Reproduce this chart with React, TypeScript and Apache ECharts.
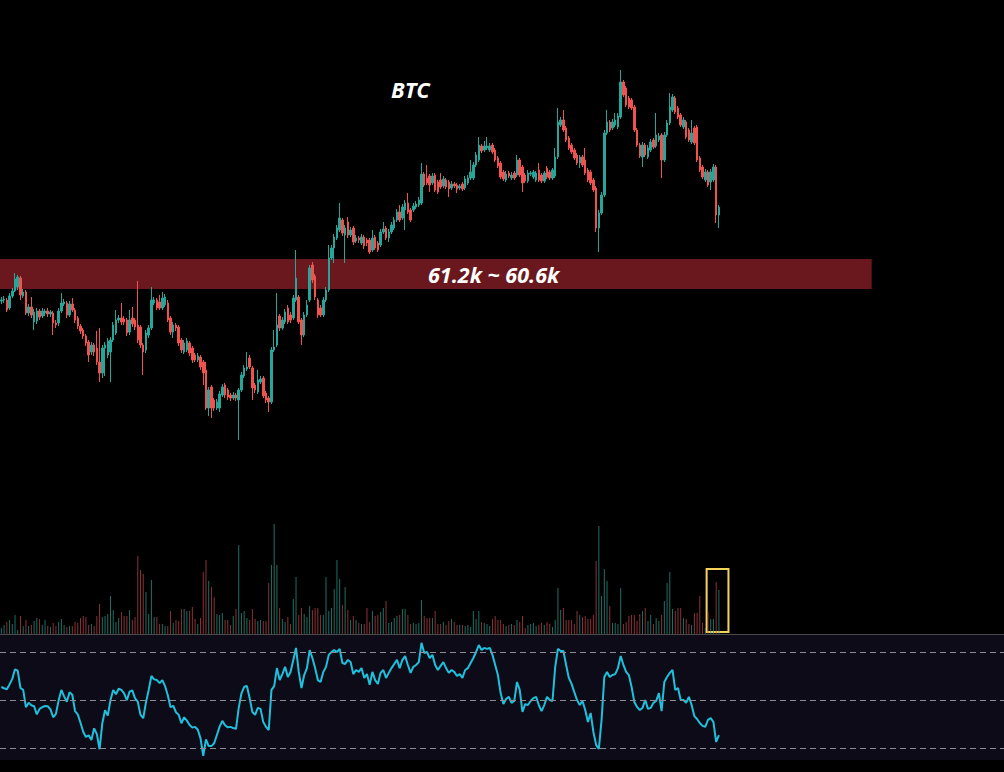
import React, { useEffect, useRef } from "react";
import * as echarts from "echarts";

// [open, close, low, high] in thousand USD
const candles: number[][] = [
  [60.36,60.38,60.30,60.44],[60.38,60.40,60.32,60.46],[60.38,60.18,60.14,60.42],[60.22,60.46,60.18,60.52],[60.46,60.56,60.42,60.62],
  [60.56,60.80,60.54,60.92],[60.64,60.84,60.58,60.88],[60.82,60.48,60.38,60.86],[60.46,60.54,60.42,60.60],[60.54,60.12,60.08,60.58],
  [60.12,60.24,60.06,60.30],[60.24,60.08,60.02,60.44],[59.94,60.14,59.78,60.20],[59.96,60.16,59.90,60.22],[60.16,60.04,59.98,60.20],
  [60.06,60.16,60.02,60.22],[60.12,60.16,60.06,60.20],[60.16,60.10,60.04,60.22],[60.10,60.14,60.04,60.18],[60.12,59.92,59.68,60.16],
  [59.92,59.88,59.82,59.98],[59.92,60.16,59.86,60.22],[60.16,60.32,60.12,60.52],[60.30,60.34,60.26,60.40],[60.32,60.08,60.02,60.36],
  [60.08,60.30,60.04,60.36],[60.30,60.18,60.14,60.42],[60.18,59.98,59.92,60.22],[60.02,59.86,59.80,60.06],[59.86,59.76,59.70,59.90],
  [59.78,59.66,59.60,59.82],[59.66,59.52,59.46,59.70],[59.54,59.28,59.14,59.58],[59.34,59.48,59.28,59.54],[59.48,59.34,59.26,59.52],
  [59.42,59.14,59.08,59.76],[59.14,58.92,58.74,59.82],[58.92,59.42,58.82,59.48],[59.42,59.48,58.86,59.54],[59.28,59.56,59.22,59.62],
  [59.34,59.58,58.74,59.64],[59.58,59.88,59.54,59.94],[59.72,59.98,59.68,60.18],[59.98,60.02,59.92,60.08],[60.02,59.94,59.88,60.32],
  [60.00,59.94,59.88,60.06],[59.98,59.72,59.66,60.02],[59.74,59.98,59.68,60.18],[60.02,59.90,59.84,60.24],[59.98,59.84,59.78,60.02],
  [59.88,59.58,59.52,60.76],[59.84,59.48,59.42,59.88],[59.48,59.34,58.88,59.52],[59.38,59.72,59.32,59.78],[59.68,59.82,59.62,59.88],
  [59.82,60.38,59.78,60.64],[60.32,60.38,60.28,60.44],[60.38,60.22,60.18,60.42],[60.34,60.22,60.18,60.48],[60.22,60.42,60.18,60.54],
  [60.28,60.44,60.24,60.50],[60.32,59.98,59.94,60.38],[60.02,59.74,59.68,60.06],[59.74,59.88,59.62,59.94],[59.88,59.82,59.76,59.92],
  [59.84,59.52,59.46,59.88],[59.58,59.38,59.32,59.62],[59.34,59.52,59.30,59.58],[59.38,59.56,59.34,59.62],[59.52,59.32,59.26,59.56],
  [59.42,59.18,59.12,59.46],[59.28,59.18,59.14,59.32],[59.18,59.26,59.14,59.32],[59.24,59.04,58.98,59.28],[59.14,58.92,58.68,59.18],
  [58.98,58.22,58.18,59.14],[58.22,58.58,58.06,58.64],[58.64,58.22,58.02,58.68],[58.38,58.22,58.16,58.42],[58.22,58.34,58.18,58.40],
  [58.22,58.50,58.14,58.56],[58.48,58.64,58.44,58.70],[58.68,58.48,58.42,58.72],[58.58,58.44,58.38,58.62],[58.48,58.42,58.36,58.52],
  [58.42,58.48,58.38,58.54],[58.48,58.42,58.36,58.52],[58.38,58.58,57.58,58.62],[58.58,58.88,58.54,58.94],[58.86,59.02,58.82,59.08],
  [59.00,59.04,58.96,59.34],[59.22,59.04,59.00,59.28],[59.02,58.62,58.38,59.06],[58.68,58.58,58.52,58.72],[58.54,58.78,58.50,58.98],
  [58.74,58.80,58.70,58.86],[58.82,58.46,58.42,58.86],[58.52,58.38,58.32,58.56],[58.42,58.34,58.14,58.46],[58.34,59.38,58.30,59.44],
  [59.38,59.44,59.34,59.78],[59.48,59.88,59.44,60.52],[60.06,59.82,59.76,60.10],[59.82,59.98,59.78,60.04],[59.94,60.14,59.90,60.20],
  [60.22,59.94,59.90,60.28],[60.08,59.98,59.92,60.14],[60.02,60.42,59.98,60.48],[60.38,60.82,60.34,61.38],[60.44,59.94,59.90,60.48],
  [59.98,59.68,59.48,60.02],[59.68,60.08,59.64,60.14],[60.08,60.28,60.04,60.38],[60.38,61.02,60.34,61.08],[61.08,60.78,60.72,61.14],
  [60.86,60.44,60.38,60.90],[60.38,60.08,60.02,60.42],[60.22,60.08,60.04,60.28],[60.08,60.38,60.04,60.44],[60.38,60.58,60.34,60.64],
  [60.58,61.22,60.54,61.48],[61.22,61.42,61.18,61.48],[61.42,61.64,61.12,61.70],[61.62,61.82,61.58,61.88],[61.78,62.02,61.74,62.32],
  [61.98,61.72,61.66,62.02],[61.68,61.82,61.12,61.88],[61.94,61.68,61.62,62.04],[61.68,61.78,61.64,61.84],[61.82,61.54,61.48,61.86],
  [61.56,61.62,61.52,61.68],[61.62,61.58,61.52,61.66],[61.52,61.64,61.48,61.70],[61.64,61.46,61.40,61.68],[61.58,61.52,61.46,61.62],
  [61.58,61.34,61.30,61.62],[61.38,61.62,61.34,61.78],[61.64,61.42,61.38,61.68],[61.52,61.38,61.34,61.56],[61.48,61.74,61.44,61.80],
  [61.74,61.80,61.70,61.94],[61.82,61.62,61.58,61.86],[61.62,61.74,61.54,61.80],[61.74,61.88,61.70,61.94],[61.82,61.98,61.78,62.04],
  [61.98,62.14,61.94,62.20],[62.14,61.98,61.94,62.28],[62.02,62.24,61.98,62.30],[62.18,62.32,61.78,62.38],[62.32,62.14,62.10,62.52],
  [62.18,61.98,61.94,62.22],[62.18,62.26,62.14,62.32],[62.24,62.30,62.20,62.36],[62.28,62.38,62.24,62.44],[62.32,62.90,62.28,63.12],
  [62.90,62.68,62.64,62.94],[62.82,62.72,62.68,63.08],[62.86,62.68,62.54,62.90],[62.72,62.86,62.68,62.92],[62.88,62.58,62.54,62.92],
  [62.74,62.54,62.50,62.78],[62.78,62.64,62.60,62.92],[62.66,62.80,62.62,62.86],[62.78,62.64,62.60,62.82],[62.74,62.60,62.44,62.78],
  [62.62,62.70,62.58,62.76],[62.70,62.66,62.62,62.74],[62.68,62.60,62.52,62.72],[62.62,62.66,62.58,62.70],[62.70,62.60,62.56,62.74],
  [62.62,62.80,62.58,62.86],[62.72,62.82,62.68,62.88],[62.82,62.94,62.78,63.18],[62.82,63.08,62.78,63.14],[63.08,63.28,63.04,63.34],
  [63.18,63.48,63.14,63.64],[63.46,63.36,63.32,63.50],[63.38,63.46,63.34,63.56],[63.42,63.46,63.38,63.64],[63.38,63.46,63.34,63.52],
  [63.48,63.34,63.30,63.52],[63.38,63.18,63.14,63.42],[63.22,63.06,63.02,63.26],[63.12,62.84,62.80,63.16],[62.94,62.80,62.76,62.98],
  [62.78,62.90,62.74,62.96],[62.92,62.86,62.82,62.96],[62.82,62.88,62.78,62.94],[62.92,62.82,62.78,62.96],[62.88,63.18,62.84,63.28],
  [63.18,62.88,62.84,63.22],[63.04,62.72,62.54,63.08],[62.88,62.76,62.72,62.92],[62.76,62.92,62.72,62.98],[62.90,62.92,62.86,62.96],
  [62.84,62.94,62.80,62.98],[62.78,62.92,62.74,62.96],[62.98,62.78,62.74,63.12],[62.88,62.76,62.72,62.92],[62.76,62.92,62.72,62.96],
  [63.02,62.84,62.80,63.06],[62.94,62.82,62.78,62.98],[62.82,62.98,62.78,63.02],[62.86,63.24,62.82,63.42],[63.24,63.94,63.20,64.22],
  [63.88,63.98,63.84,64.04],[63.98,63.78,63.74,64.18],[63.82,63.58,63.54,63.86],[63.62,63.42,63.38,63.66],[63.48,63.34,63.30,63.52],
  [63.38,63.22,63.18,63.42],[63.28,63.12,63.08,63.32],[63.12,63.24,63.02,63.28],[63.24,63.08,63.04,63.28],[63.18,62.92,62.88,63.42],
  [62.98,62.78,62.74,63.02],[62.94,62.72,62.68,62.98],[62.78,62.58,62.54,62.82],[62.62,61.82,61.74,62.66],[61.82,62.12,61.34,62.18],
  [62.12,62.48,62.08,62.54],[62.48,63.72,62.44,63.78],[63.72,63.94,63.68,64.18],[63.94,63.78,63.74,63.98],[63.82,63.94,63.78,64.00],
  [63.88,63.98,63.84,64.12],[63.84,64.06,63.80,64.12],[64.04,64.74,64.00,64.98],[64.74,64.48,64.44,64.78],[64.62,64.28,64.24,64.66],
  [64.42,64.24,64.20,64.46],[64.38,64.22,64.18,64.42],[64.24,63.78,63.74,64.28],[63.78,63.48,63.44,63.82],[63.48,63.26,63.22,63.52],
  [63.24,63.48,63.04,63.54],[63.48,63.28,63.24,63.52],[63.24,63.42,63.20,63.48],[63.38,63.54,63.34,63.60],[63.58,63.44,63.40,63.62],
  [63.46,63.68,63.42,64.12],[63.58,63.66,63.54,63.72],[63.68,63.18,62.82,63.72],[63.18,63.68,63.14,63.74],[63.68,63.92,63.64,63.98],
  [63.92,64.24,63.88,64.52],[64.18,64.44,64.14,64.50],[64.42,64.14,64.10,64.46],[64.22,64.04,64.00,64.26],[64.08,63.88,63.84,64.12],
  [63.84,63.98,63.80,64.04],[63.94,63.64,63.60,63.98],[63.78,63.58,63.54,63.82],[63.54,63.72,63.50,63.98],[63.82,63.52,63.48,63.86],
  [63.84,63.18,63.14,63.88],[63.22,62.98,62.94,63.26],[63.04,62.84,62.80,63.08],[62.78,62.94,62.74,63.00],[62.94,62.68,62.64,62.98],
  [62.74,62.94,62.58,63.00],[62.78,63.04,62.74,63.10],[63.04,62.08,61.92,63.08],[62.08,62.24,61.82,62.28],
];

const volumes: number[] = [
  6,9,12,14,10,19,4,18,8,14, 8,9,13,16,15,9,14,8,7,11, 8,12,15,9,7,8,8,12,11,16,
  18,17,9,10,8,18,30,17,18,20, 38,24,12,16,22,18,18,24,14,17, 78,64,60,42,20,54,17,17,10,10,
  8,8,23,11,14,13,25,25,23,23, 27,15,10,16,62,74,53,47,37,20, 19,21,14,14,9,18,25,89,21,23,
  16,
  14,25,15,13,14,13,13,51,69,110, 69,26,15,12,17,10,35,57,19,26, 20,17,28,24,26,26,19,19,57,23,
  26,45,74,55,29,47,24,14,18,14, 11,10,10,26,12,23,18,19,22,26, 33,11,12,16,18,19,25,25,19,10,
  11,10,11,34,18,16,16,16,23,10, 10,12,9,13,15,12,9,9,9,8, 9,7,23,15,23,12,11,10,8,15,
  18,14,
  14,10,8,9,10,9,14,12,18,6, 9,10,11,8,9,11,9,12,10,7, 14,46,24,26,14,14,14,10,23,19,
  17,18,15,15,19,73,108,38,65,53, 28,11,11,10,46,10,12,18,19,19, 13,20,23,26,13,19,10,16,13,19,
  33,51,62,25,23,26,26,16,15,10, 9,21,21,38,11,6,22,15,15,52, 44,
];

const rsi: number[] = [
  55.4,54.9,54.5,56.5,58.8,62.8,62.2,55.0,54.2,47.0,
  48.9,47.8,47.4,44.0,46.3,47.0,47.5,47.4,46.1,42.8,
  44.2,49.9,54.2,51.5,49.3,53.2,52.2,45.4,44.0,40.5,
  36.8,34.6,35.3,33.3,38.2,35.8,29.5,40.3,45.7,43.5,
  50.0,54.2,52.4,54.7,54.2,52.8,49.9,53.5,54.0,50.7,
  49.3,43.8,42.4,49.0,54.2,60.0,58.6,58.3,57.0,58.3,
  55.8,52.0,47.0,47.6,44.9,43.8,40.3,42.8,41.4,39.6,
  38.5,38.8,37.6,34.0,26.7,33.6,30.8,30.8,32.0,35.4,
  38.9,41.3,39.5,38.6,38.8,38.3,38.0,46.7,52.8,55.5,
  55.8,50.8,45.0,43.8,46.7,46.3,40.8,38.8,37.5,54.2,
  55.8,63.3,58.3,60.8,63.8,59.6,61.7,66.7,71.7,61.7,
  55.0,60.4,63.3,70.8,67.5,63.3,58.3,57.5,61.7,63.8,
  68.8,70.0,70.8,70.0,71.3,65.4,65.0,66.7,65.8,60.8,
  62.5,61.7,63.3,59.2,60.8,56.3,61.7,58.3,56.7,61.3,
  62.5,59.2,61.3,63.3,65.0,66.7,63.3,66.7,68.3,64.6,
  61.3,63.8,64.6,65.8,73.8,69.6,70.0,67.5,68.8,64.6,
  62.5,64.2,65.8,63.3,61.3,62.5,61.7,60.0,60.8,59.2,
  62.5,63.3,65.4,67.5,70.0,72.9,70.8,71.7,71.3,71.7,
  68.8,64.6,60.4,52.9,48.3,50.4,51.3,48.8,49.6,57.5,
  54.2,45.0,48.3,47.9,49.6,50.8,51.3,47.9,45.4,47.9,
  51.3,50.0,49.6,63.8,71.3,70.4,70.4,64.6,59.2,56.7,
  53.3,50.0,47.9,49.6,45.8,40.8,44.6,36.7,31.3,29.6,
  41.7,59.6,61.7,59.6,60.4,60.8,63.3,68.3,64.6,61.7,
  60.4,55.4,49.2,47.1,45.8,46.7,50.0,46.3,46.7,48.8,
  49.6,52.9,45.4,57.5,59.6,61.3,62.5,54.2,55.0,50.0,
  50.0,48.8,51.3,47.9,43.3,42.1,40.4,39.2,38.8,41.7,
  42.5,40.8,32.5,35.4,
];

const rsiLevels: number[] = [70, 50, 30];
const bandTop = 61.2;
const bandBottom = 60.6;
const bandEndIndex = 319;
const highlightStart = 259;
const highlightEnd = 266;
const highlightTop = 65;
const highlightBottom = 2;
const SLOT_COUNT = 368;
const categories: string[] = Array.from({ length: SLOT_COUNT }, (_, i) => `t${i + 1}`);

const UP = "#26a69a";
const DOWN = "#ef5350";
const FONT = "'Open Sans', 'DejaVu Sans', sans-serif";

export default function App() {
  const ref = useRef<HTMLDivElement>(null);
  useEffect(() => {
    if (!ref.current) return;
    const chart = echarts.init(ref.current, undefined, { renderer: "svg" });
    const volData = volumes.map((v, i) => ({
      value: v,
      itemStyle: {
        color: candles[i] && candles[i][1] >= candles[i][0] ? "rgba(38,150,136,0.75)" : "rgba(200,70,80,0.7)",
      },
    }));
    chart.setOption({
      animation: false,
      backgroundColor: "#000000",
      title: {
        text: "BTC",
        left: 386,
        top: 73,
        textStyle: { color: "#ffffff", fontSize: 22, fontWeight: "bold", fontStyle: "italic", fontFamily: FONT },
      },
      grid: [
        { left: 0, right: 0, top: 0, height: 634 },
        { left: 0, right: 0, top: 520, height: 114 },
        { left: 0, right: 0, top: 635, height: 125, show: true, backgroundColor: "#0d0b17", borderWidth: 0 },
      ],
      xAxis: [
        { type: "category", gridIndex: 0, data: categories, boundaryGap: true, show: false },
        {
          type: "category", gridIndex: 1, data: categories, boundaryGap: true,
          axisLine: { show: true, lineStyle: { color: "#4a4a4a", width: 1 } },
          axisTick: { show: false, interval: 0 }, axisLabel: { show: false, interval: 0 }, splitLine: { show: false },
        },
        { type: "category", gridIndex: 2, data: categories, boundaryGap: true, show: false },
      ],
      yAxis: [
        { type: "value", gridIndex: 0, min: 53.7, max: 66.38, show: false, splitLine: { show: false } },
        { type: "value", gridIndex: 1, min: 0, max: 114, show: false, splitLine: { show: false } },
        { type: "value", gridIndex: 2, min: 25, max: 77.083, show: false, splitLine: { show: false } },
      ],
      series: [
        {
          type: "candlestick",
          xAxisIndex: 0,
          yAxisIndex: 0,
          data: candles,
          barWidth: 2,
          itemStyle: { color: UP, color0: DOWN, borderColor: UP, borderColor0: DOWN, borderWidth: 1 },
          markArea: {
            silent: true,
            itemStyle: { color: "#6a181e" },
            label: {
              show: true,
              position: [428, 15],
              align: "left",
              verticalAlign: "middle",
              color: "#ffffff",
              fontSize: 21.5,
              fontWeight: "bold",
              fontStyle: "italic",
              fontFamily: FONT,
              formatter: () => `${bandTop.toFixed(1)}k ~ ${bandBottom.toFixed(1)}k`,
            },
            data: [[{ yAxis: bandTop }, { xAxis: categories[bandEndIndex], yAxis: bandBottom }]],
          },
          z: 3,
        },
        {
          type: "bar",
          xAxisIndex: 1,
          yAxisIndex: 1,
          data: volData,
          barWidth: 1,
          markArea: {
            silent: true,
            itemStyle: { color: "rgba(0,0,0,0)", borderColor: "#f5d35a", borderWidth: 2 },
            data: [[
              { xAxis: categories[highlightStart], yAxis: highlightBottom },
              { xAxis: categories[highlightEnd], yAxis: highlightTop },
            ]],
          },
        },
        {
          type: "line",
          xAxisIndex: 2,
          yAxisIndex: 2,
          data: rsi,
          showSymbol: false,
          symbol: "none",
          lineStyle: { color: "#1fc0db", width: 2 },
          markLine: {
            silent: true,
            symbol: "none",
            label: { show: false },
            lineStyle: { color: "#8c8c94", type: [6, 4], width: 1 },
            data: rsiLevels.map((v) => ({ yAxis: v })),
          },
        },
      ],
    });
    return () => chart.dispose();
  }, []);
  return (
    <div
      ref={ref}
      style={{ position: "fixed", left: 0, top: 0, width: 1004, height: 772, background: "#000" }}
    />
  );
}
